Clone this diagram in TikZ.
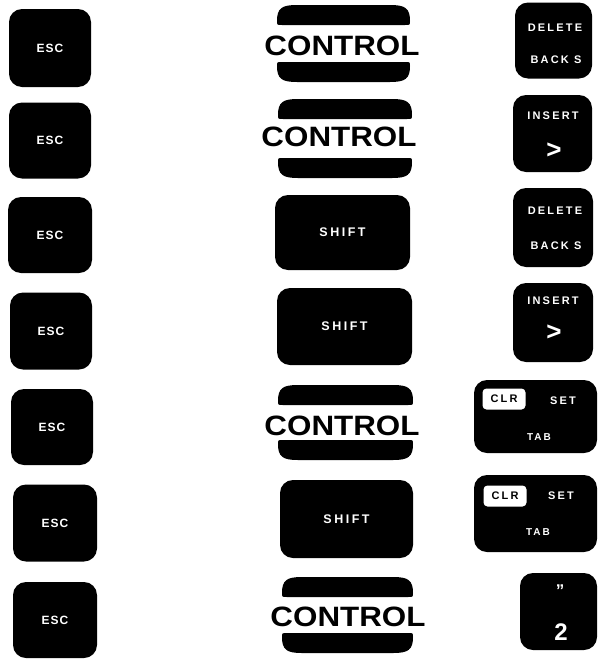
\documentclass[tikz,border=0pt]{standalone}
\usepackage{fontspec}
\setmainfont{Liberation Sans}
\newfontfamily\legendfont[LetterSpace=20]{Liberation Sans}
\newfontfamily\escfont[LetterSpace=8]{Liberation Sans}
\newfontfamily\ctrlfont[FakeStretch=1.12]{Liberation Sans}
\begin{document}
\begin{tikzpicture}[x=1pt,y=-1pt,
  keycap/.style={fill=black, rounded corners=13pt, inner sep=0pt, text=white},
  esclabel/.style={text=white, font=\escfont\bfseries\fontsize{12}{12}\selectfont},
  legend/.style={text=white, inner sep=0pt, font=\legendfont\bfseries\fontsize{11}{11}\selectfont},
  biglegend/.style={text=white, inner sep=0pt, font=\bfseries\fontsize{26}{26}\selectfont},
  ctrltext/.style={inner sep=0pt, font=\ctrlfont\bfseries\fontsize{28}{28}\selectfont},
  clrbox/.style={fill=white, rounded corners=4pt, minimum width=43pt, minimum height=21pt, inner sep=0pt, text=black, font=\legendfont\bfseries\fontsize{11}{11}\selectfont}
]
\useasboundingbox[fill=white] (0,0) rectangle (600,659);

% helper for CONTROL keys: x1 x2 top-bar-top bottom-bar-bottom
\newcommand{\ctrlbars}[4]{%
  \fill (#1,#3+16) .. controls (#1,#3+3) and (#1+5,#3) .. (#1+20,#3)
        -- (#2-20,#3) .. controls (#2-5,#3) and (#2,#3+3) .. (#2,#3+16)
        .. controls (#2,#3+20) .. (#2-5,#3+20)
        -- (#1+5,#3+20) .. controls (#1,#3+20) .. (#1,#3+16) -- cycle;
  \fill (#1,#4-16) .. controls (#1,#4-3) and (#1+5,#4) .. (#1+20,#4)
        -- (#2-20,#4) .. controls (#2-5,#4) and (#2,#4-3) .. (#2,#4-16)
        .. controls (#2,#4-20) .. (#2-5,#4-20)
        -- (#1+5,#4-20) .. controls (#1,#4-20) .. (#1,#4-16) -- cycle;
}

% ---------------- ESC column ----------------
\node[keycap, minimum width=82pt, minimum height=78pt] (esc1) at (50,48) {};
\node[esclabel] (esc1t) at (esc1) {ESC};
\node[keycap, minimum width=82pt, minimum height=76pt] (esc2) at (50,140.5) {};
\node[esclabel] (esc2t) at (esc2) {ESC};
\node[keycap, minimum width=84pt, minimum height=76pt] (esc3) at (50,235) {};
\node[esclabel] (esc3t) at (esc3) {ESC};
\node[keycap, minimum width=82pt, minimum height=77pt] (esc4) at (51,331) {};
\node[esclabel] (esc4t) at (esc4) {ESC};
\node[keycap, minimum width=82pt, minimum height=76pt] (esc5) at (52,427) {};
\node[esclabel] (esc5t) at (esc5) {ESC};
\node[keycap, minimum width=84pt, minimum height=77pt] (esc6) at (55,523) {};
\node[esclabel] (esc6t) at (esc6) {ESC};
\node[keycap, minimum width=84pt, minimum height=76pt] (esc7) at (55,620) {};
\node[esclabel] (esc7t) at (esc7) {ESC};

% ---------------- middle column ----------------
\ctrlbars{277}{410}{5}{82}
\node[ctrltext] (ctrl1) at (342,46) {CONTROL};
\ctrlbars{278}{412}{99}{178}
\node[ctrltext] (ctrl2) at (339,137) {CONTROL};

\node[keycap, minimum width=135pt, minimum height=75pt] (shift1) at (342.5,232.5) {};
\node[legend, font=\legendfont\bfseries\fontsize{12.5}{12.5}\selectfont] (shift1t) at (shift1) {SHIFT};
\node[keycap, minimum width=135pt, minimum height=77pt] (shift2) at (344.5,326.5) {};
\node[legend, font=\legendfont\bfseries\fontsize{12.5}{12.5}\selectfont] (shift2t) at (shift2) {SHIFT};

\ctrlbars{278}{413}{385}{460}
\node[ctrltext] (ctrl3) at (342,426) {CONTROL};

\node[keycap, minimum width=133pt, minimum height=78pt] (shift3) at (346.5,519) {};
\node[legend, font=\legendfont\bfseries\fontsize{12.5}{12.5}\selectfont] (shift3t) at (shift3) {SHIFT};

\ctrlbars{282}{413}{577}{653}
\node[ctrltext] (ctrl4) at (348,617) {CONTROL};

% ---------------- right column ----------------
\node[keycap, minimum width=77pt, minimum height=76pt] (del1) at (553.5,40.5) {};
\node[legend] (del1a) at (555,28) {DELETE};
\node[legend] (del1b) at (556,60) {BACK S};

\node[keycap, minimum width=79pt, minimum height=77pt] (ins1) at (552.5,133.5) {};
\node[legend] (ins1a) at (553,116) {INSERT};
\node[biglegend] (ins1b) at (554,151) {>};

\node[keycap, minimum width=80pt, minimum height=79pt] (del2) at (553,227.5) {};
\node[legend] (del2a) at (555,211) {DELETE};
\node[legend] (del2b) at (556,246) {BACK S};

\node[keycap, minimum width=80pt, minimum height=79pt] (ins2) at (553,322.5) {};
\node[legend] (ins2a) at (553,301) {INSERT};
\node[biglegend] (ins2b) at (554,333) {>};

\node[keycap, minimum width=123pt, minimum height=73pt] (tab1) at (535.5,416.5) {};
\node[clrbox] (tab1c) at (504,399) {CLR};
\node[legend] (tab1s) at (563,401) {SET};
\node[legend, font=\legendfont\bfseries\fontsize{10}{10}\selectfont] (tab1t) at (539,437) {TAB};

\node[keycap, minimum width=123pt, minimum height=77pt] (tab2) at (535.5,513.5) {};
\node[clrbox] (tab2c) at (505,496) {CLR};
\node[legend] (tab2s) at (561,496) {SET};
\node[legend, font=\legendfont\bfseries\fontsize{10}{10}\selectfont] (tab2t) at (538,532) {TAB};

\node[keycap, minimum width=77pt, minimum height=77pt] (k2) at (558.5,611.5) {};
\node[legend, font=\bfseries\fontsize{17}{17}\selectfont] (k2a) at (560,591) {\symbol{"22}};
\node[biglegend, font=\bfseries\fontsize{24}{24}\selectfont] (k2b) at (561,632) {2};
\end{tikzpicture}
\end{document}
